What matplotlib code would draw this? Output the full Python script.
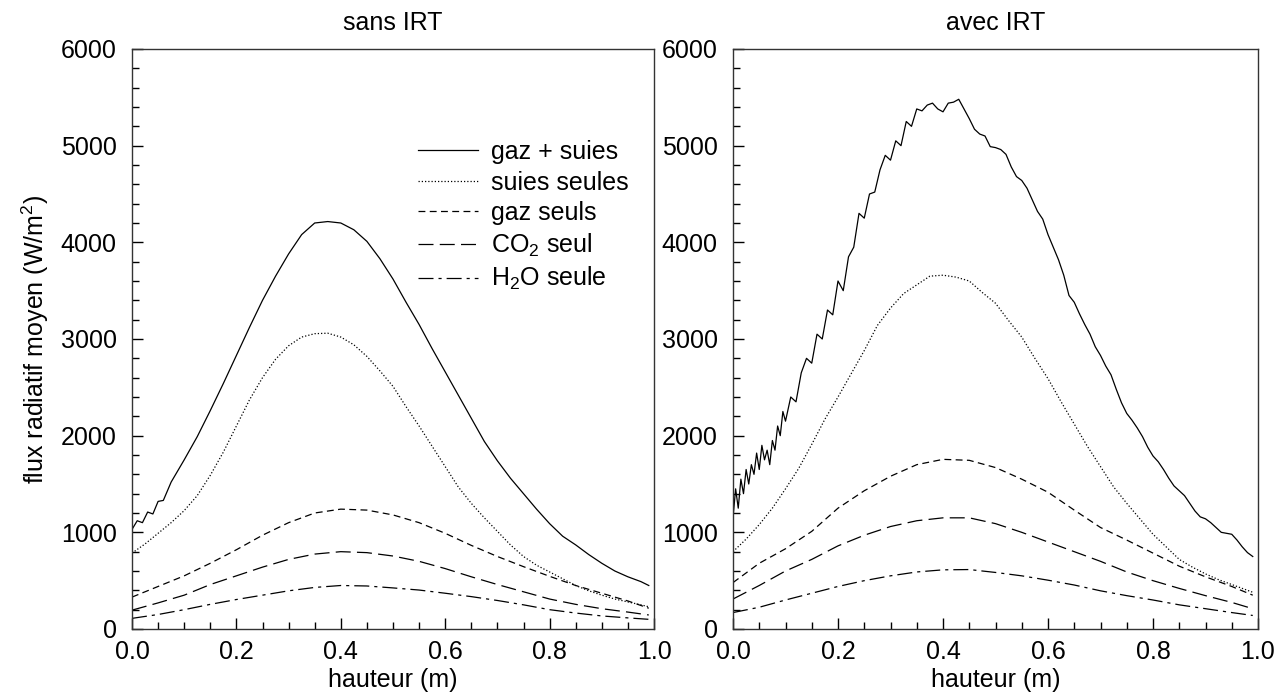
import matplotlib
matplotlib.use("Agg")
import matplotlib.pyplot as plt
from matplotlib.ticker import MultipleLocator, FormatStrFormatter

plt.rcParams['font.family'] = ['Liberation Sans', 'DejaVu Sans']
plt.rcParams['mathtext.default'] = 'regular'

# ---------------- data: left panel "sans IRT" ----------------
x_left_fine = [0, 0.01, 0.02, 0.03, 0.04, 0.05, 0.06, 0.075, 0.1, 0.125, 0.15, 0.175, 0.2,
               0.225, 0.25, 0.275, 0.3,
               0.325, 0.35, 0.375, 0.4, 0.425, 0.45, 0.475, 0.5, 0.525, 0.55, 0.575, 0.6,
               0.625, 0.65, 0.675, 0.7, 0.725, 0.75, 0.775, 0.8, 0.825, 0.85, 0.875, 0.9,
               0.925, 0.95, 0.975, 0.99]
left_gaz_suies = [1030, 1120, 1100, 1210, 1190, 1320, 1330, 1520, 1750, 1990, 2260, 2540, 2830,
                  3120, 3400, 3650, 3880,
                  4080, 4200, 4215, 4200, 4130, 4010, 3830, 3620, 3380, 3150, 2900, 2660,
                  2420, 2180, 1940, 1740, 1560, 1400, 1240, 1090, 960, 870, 770, 680,
                  600, 540, 490, 450]

x_left_dot = [0, 0.025, 0.05, 0.075, 0.1, 0.125, 0.15, 0.175, 0.2, 0.225, 0.25, 0.275, 0.3,
              0.325, 0.35, 0.375, 0.4, 0.425, 0.45, 0.475, 0.5, 0.525, 0.55, 0.575, 0.6,
              0.625, 0.65, 0.675, 0.7, 0.725, 0.75, 0.775, 0.8, 0.825, 0.85, 0.875, 0.9,
              0.925, 0.95, 0.975, 0.99]
left_suies = [785, 880, 990, 1100, 1225, 1380, 1590, 1830, 2100, 2370, 2600, 2790, 2930,
              3020, 3055, 3060, 3020, 2940, 2820, 2670, 2510, 2300, 2100, 1890, 1680,
              1470, 1300, 1150, 1010, 870, 750, 660, 590, 520, 450, 395, 350,
              310, 280, 250, 230]

x_left = [0, 0.05, 0.1, 0.15, 0.2, 0.25, 0.3, 0.35, 0.4, 0.45, 0.5, 0.55, 0.6, 0.65,
          0.7, 0.75, 0.8, 0.85, 0.9, 0.95, 0.99]
left_gaz = [330, 440, 550, 680, 820, 970, 1100, 1200, 1240, 1230, 1180, 1100, 990, 865,
            750, 645, 545, 450, 370, 290, 215]
left_co2 = [195, 270, 350, 460, 550, 640, 720, 775, 800, 790, 755, 700, 625, 540,
            460, 385, 310, 255, 210, 175, 145]
left_h2o = [110, 150, 200, 255, 305, 350, 395, 430, 450, 445, 425, 403, 370, 335,
            295, 250, 200, 165, 135, 115, 100]

# ---------------- data: right panel "avec IRT" ----------------
x_right_solid = [0, 0.005, 0.01, 0.015, 0.02, 0.025, 0.03, 0.035, 0.04, 0.045, 0.05, 0.055,
                 0.06, 0.065, 0.07, 0.075, 0.08, 0.085, 0.09, 0.095, 0.1,
                 0.11, 0.12, 0.13, 0.14, 0.15, 0.16, 0.17, 0.18, 0.19, 0.2,
                 0.21, 0.22, 0.23, 0.24, 0.25, 0.26, 0.27, 0.28, 0.29, 0.3,
                 0.31, 0.32, 0.33, 0.34, 0.35, 0.36, 0.37, 0.38, 0.39, 0.4,
                 0.41, 0.42, 0.43, 0.44, 0.45, 0.46, 0.47, 0.48, 0.49, 0.5,
                 0.51, 0.52, 0.53, 0.54, 0.55, 0.56, 0.57, 0.58, 0.59, 0.6,
                 0.61, 0.62, 0.63, 0.64, 0.65, 0.66, 0.67, 0.68, 0.69, 0.7,
                 0.71, 0.72, 0.73, 0.74, 0.75, 0.76, 0.77, 0.78, 0.79, 0.8,
                 0.81, 0.82, 0.83, 0.84, 0.85, 0.86, 0.87, 0.88, 0.89, 0.9,
                 0.91, 0.92, 0.93, 0.94, 0.95, 0.96, 0.97, 0.98, 0.99]
right_gaz_suies = [1150, 1450, 1250, 1550, 1400, 1650, 1500, 1700, 1600, 1820, 1650, 1900,
                   1750, 1850, 1700, 1950, 1850, 2100, 2000, 2250, 2150,
                   2400, 2350, 2650, 2800, 2750, 3050, 3000, 3300, 3250, 3600,
                   3500, 3850, 3950, 4300, 4250, 4500, 4520, 4750, 4900, 4850,
                   5050, 5000, 5250, 5200, 5380, 5360, 5420, 5440, 5380, 5350,
                   5440, 5450, 5480, 5380, 5280, 5170, 5120, 5100, 4990, 4980,
                   4960, 4910, 4780, 4680, 4640, 4560, 4440, 4320, 4240, 4080,
                   3950, 3820, 3660, 3450, 3380, 3260, 3150, 3050, 2920, 2830,
                   2720, 2630, 2480, 2340, 2230, 2160, 2080, 1990, 1880, 1790,
                   1730, 1650, 1560, 1480, 1430, 1380, 1300, 1220, 1160, 1140,
                   1100, 1050, 1000, 990, 980, 920, 850, 790, 750]

x_right_fine = [0, 0.025, 0.05, 0.075, 0.1, 0.125, 0.15, 0.175, 0.2, 0.225, 0.25, 0.275, 0.3,
                0.325, 0.35, 0.375, 0.4, 0.425, 0.45, 0.475, 0.5, 0.525, 0.55, 0.575, 0.6,
                0.625, 0.65, 0.675, 0.7, 0.725, 0.75, 0.775, 0.8, 0.825, 0.85, 0.875, 0.9,
                0.925, 0.95, 0.975, 0.99]
right_suies = [800, 930, 1080, 1250, 1450, 1660, 1910, 2170, 2400, 2640, 2880, 3140, 3320,
               3470, 3560, 3650, 3660, 3640, 3600, 3480, 3370, 3190, 3020, 2800, 2590,
               2350, 2120, 1890, 1680, 1470, 1300, 1140, 980, 850, 720, 640, 570,
               510, 460, 410, 380]

x_right = [0, 0.05, 0.1, 0.15, 0.2, 0.25, 0.3, 0.35, 0.4, 0.45, 0.5, 0.55, 0.6, 0.65,
           0.7, 0.75, 0.8, 0.85, 0.9, 0.95, 0.99]
right_gaz = [480, 680, 830, 1010, 1250, 1430, 1580, 1700, 1755, 1745, 1670, 1550, 1415, 1230,
             1050, 920, 785, 650, 540, 440, 350]
right_co2 = [310, 450, 600, 720, 860, 970, 1060, 1120, 1150, 1150, 1090, 1000, 900, 800,
             700, 590, 500, 420, 345, 275, 210]
right_h2o = [170, 225, 300, 370, 440, 500, 550, 590, 612, 615, 585, 550, 505, 455,
             395, 345, 300, 250, 210, 170, 140]

labels = ['gaz + suies', 'suies seules', 'gaz seuls', 'CO$_2$ seul', 'H$_2$O seule']
titles = ['sans IRT', 'avec IRT']

# ---------------- figure ----------------
fig = plt.figure(figsize=(12.83, 6.98), dpi=100)
ax1 = fig.add_axes([132/1283, 69/698, 522/1283, 580/698])
ax2 = fig.add_axes([733/1283, 69/698, 525/1283, 580/698])

lw = 0.9
fs = 18
styles = [
    dict(linestyle='-'),
    dict(dashes=(1.0, 1.6)),
    dict(dashes=(5.5, 3.5)),
    dict(dashes=(12, 5)),
    dict(dashes=(12, 4, 2.5, 4)),
]

def draw(ax, series):
    for (xs, ys), st, lab in zip(series, styles, labels):
        ax.plot(xs, ys, color='black', lw=lw, label=lab, **st)

draw(ax1, [(x_left_fine, left_gaz_suies), (x_left_dot, left_suies),
           (x_left, left_gaz), (x_left, left_co2), (x_left, left_h2o)])
draw(ax2, [(x_right_solid, right_gaz_suies), (x_right_fine, right_suies),
           (x_right, right_gaz), (x_right, right_co2), (x_right, right_h2o)])

for ax, t in zip([ax1, ax2], titles):
    ax.set_xlim(0, 1.0)
    ax.set_ylim(0, 6000)
    ax.xaxis.set_major_locator(MultipleLocator(0.2))
    ax.xaxis.set_minor_locator(MultipleLocator(0.05))
    ax.yaxis.set_major_locator(MultipleLocator(1000))
    ax.yaxis.set_minor_locator(MultipleLocator(200))
    ax.tick_params(which='both', direction='in', top=False, right=False, labelsize=fs, width=1)
    ax.tick_params(which='major', length=8)
    ax.tick_params(which='minor', length=5)
    ax.tick_params(axis='y', pad=11)
    ax.tick_params(axis='x', pad=8)
    ax.xaxis.set_major_formatter(FormatStrFormatter('%.1f'))
    for sp in ax.spines.values():
        sp.set_linewidth(1.0)
        sp.set_color('#333333')
    ax.set_xlabel('hauteur (m)', fontsize=fs, labelpad=3)
    ax.set_title(t, fontsize=fs, pad=14)

ax1.set_ylabel('flux radiatif moyen (W/m$^2$)', fontsize=fs, labelpad=7)

ax1.legend(loc='upper left', bbox_to_anchor=(0.548, 0.843), frameon=False, fontsize=fs,
           handlelength=2.4, handletextpad=0.5, labelspacing=0.26, borderpad=0,
           borderaxespad=0)

fig.savefig('out.png', dpi=100)
